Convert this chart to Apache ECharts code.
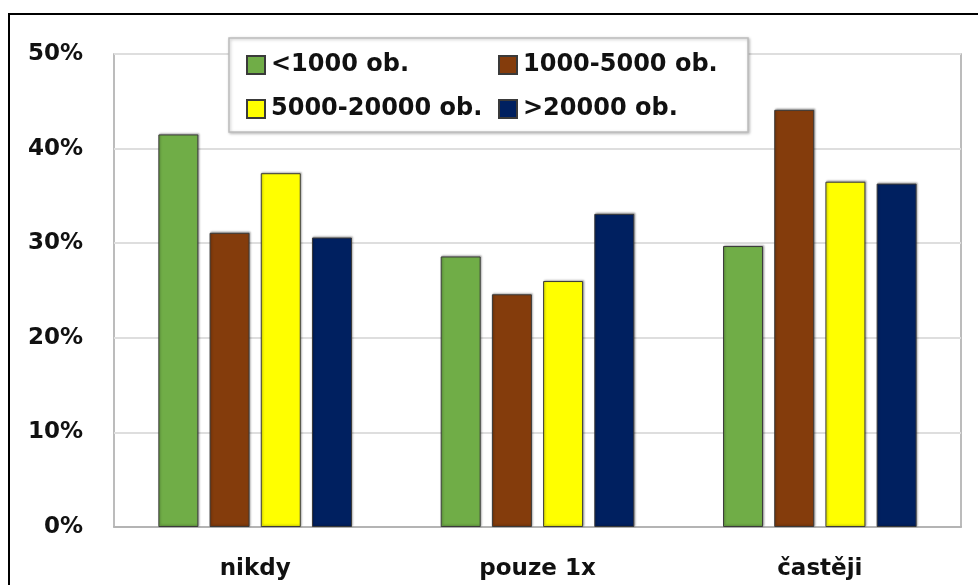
<!DOCTYPE html>
<html>
<head>
<meta charset="utf-8">
<script src="https://cdn.jsdelivr.net/npm/echarts@6/dist/echarts.min.js"></script>
<style>html,body{margin:0;padding:0;background:#fff}#c{width:978px;height:585px}</style>
</head>
<body>
<div id="c"></div>
<script>
const categories = ['nikdy', 'pouze 1x', 'častěji'];
const seriesNames = ['<1000 ob.', '1000-5000 ob.', '5000-20000 ob.', '>20000 ob.'];
const small = [41.5, 28.6, 29.7];
const mid = [31.1, 24.6, 44.1];
const large = [37.4, 26.0, 36.5];
const city = [30.6, 33.1, 36.3];
const colors = ['#70AD47', '#843C0C', '#FFFF00', '#002060'];
const yTicks = { min: 0, max: 50, interval: 10 };

const FONT = 'DejaVu Sans';
const values = [small, mid, large, city];
const legendText = { fontFamily: FONT, fontSize: 24, fontWeight: 'bold', color: '#111', padding: [0, 0, 0, 1] };
const chart = echarts.init(document.getElementById('c'));
chart.setOption({
  animation: false,
  textStyle: { fontFamily: FONT },
  grid: { left: 114, right: 17, top: 54, bottom: 58, show: true, borderColor: '#a6a6a6', borderWidth: 1.5, containLabel: false },
  graphic: [
    { type: 'rect', z: 1, shape: { x: 9, y: 14, width: 1000, height: 620 }, style: { fill: 'none', stroke: '#000', lineWidth: 2 } },
    { type: 'rect', z: 5, shape: { x: 229, y: 38, width: 519, height: 94 }, style: { fill: '#fff', stroke: '#bdbdbd', lineWidth: 1.5, shadowBlur: 3, shadowColor: 'rgba(0,0,0,0.25)', shadowOffsetX: 1, shadowOffsetY: 1 } }
  ],
  legend: [
    { z: 10, orient: 'vertical', left: 241, top: 48, itemWidth: 18, itemHeight: 18, itemGap: 20, icon: 'rect', data: [seriesNames[0], seriesNames[2]], textStyle: legendText },
    { z: 10, orient: 'vertical', left: 493, top: 48, itemWidth: 18, itemHeight: 18, itemGap: 20, icon: 'rect', data: [seriesNames[1], seriesNames[3]], textStyle: legendText }
  ],
  xAxis: {
    type: 'category', data: categories,
    axisLine: { show: true, lineStyle: { color: '#a6a6a6', width: 1.5 } },
    axisTick: { show: false },
    axisLabel: { fontFamily: FONT, fontSize: 23, fontWeight: 'bold', color: '#111', margin: 31 }
  },
  yAxis: {
    type: 'value', min: yTicks.min, max: yTicks.max, interval: yTicks.interval,
    axisLine: { show: false }, axisTick: { show: false },
    axisLabel: { formatter: '{value}%', fontFamily: FONT, fontSize: 23, fontWeight: 'bold', color: '#111', margin: 31 },
    splitLine: { lineStyle: { color: '#dedede', width: 2 } }
  },
  series: seriesNames.map((n, i) => ({
    name: n, type: 'bar', data: values[i],
    barWidth: 40, barGap: '28%',
    itemStyle: { color: colors[i], borderColor: '#3a3a3a', borderWidth: 1, shadowBlur: 2, shadowColor: 'rgba(0,0,0,0.3)', shadowOffsetX: 1, shadowOffsetY: -1 }
  }))
});
</script>
</body>
</html>
